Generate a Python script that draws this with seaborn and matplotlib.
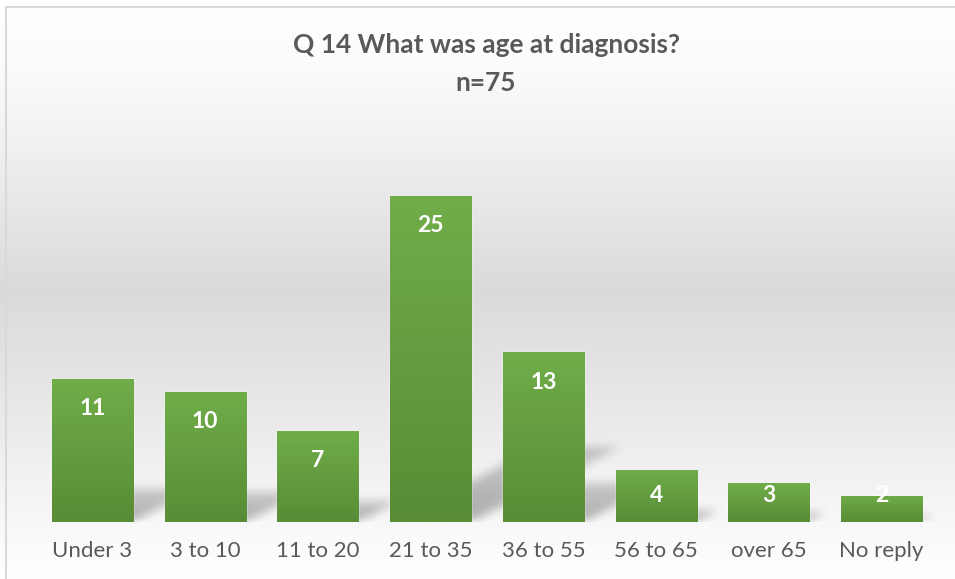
import numpy as np
import pandas as pd
import matplotlib
matplotlib.use("Agg")
import matplotlib.pyplot as plt
from matplotlib.lines import Line2D
import seaborn as sns

# data
categories = ['Under 3', '3 to 10', '11 to 20', '21 to 35', '36 to 55', '56 to 65', 'over 65', 'No reply']
counts = [11, 10, 7, 25, 13, 4, 3, 2]
title_line1 = 'Q 14 What was age at diagnosis?'
title_line2 = 'n=75'

df = pd.DataFrame({'age': categories, 'count': counts})

sns.set_theme(style='white')
plt.rcParams['font.family'] = ['Lato', 'DejaVu Sans']

W, H = 955, 579
fig = plt.figure(figsize=(W / 100, H / 100), dpi=100)

# background: vertical grey gradient
bg = fig.add_axes([0, 0, 1, 1], zorder=-10)
rows = np.arange(H)
shade = np.interp(rows, [0, 60, 150, 290, 420, 520, 579],
                  [255, 252, 240, 218, 234, 248, 255]) / 255.0
grad = np.repeat(shade[:, None], 4, axis=1)
bg.imshow(np.dstack([grad, grad, grad]), aspect='auto', extent=[0, 1, 0, 1])
bg.set_axis_off()

# chart frame (top and left edges visible)
fig.add_artist(Line2D([6 / W, 1], [1 - 7 / H, 1 - 7 / H], color='#d9d9d9', lw=1.5))
fig.add_artist(Line2D([6 / W, 6 / W], [0, 1 - 7 / H], color='#d9d9d9', lw=1.5))

ax = fig.add_axes([36 / W, (H - 522) / H, 902 / W, 391.2 / H])
ax.patch.set_alpha(0)

bar_w = 0.72
sns.barplot(data=df, x='age', y='count', color='#6aa646', width=bar_w,
            ax=ax, zorder=3, saturation=1)
ax.set_xlim(-0.5, len(categories) - 0.5)
ax.set_ylim(0, 30)

# soft perspective shadows behind the bars
nx, ny = 902, 391
xs = np.linspace(-0.5, len(categories) - 0.5, nx)
ys = np.linspace(30, 0, ny)
X, Y = np.meshgrid(xs, ys)
alpha = np.zeros_like(X)
s_ratio, k = 0.23, 0.23
for i, v in enumerate(counts):
    sh = s_ratio * v
    x0 = i - bar_w / 2 + k * Y
    x1 = i + bar_w / 2 + k * Y
    inside = (Y <= sh) & (X >= x0) & (X <= x1)
    a = 0.3 * (1 - 0.4 * Y / sh)
    alpha = np.maximum(alpha, np.where(inside, a, 0))


def box_blur(img, r):
    kern = np.ones(2 * r + 1) / (2 * r + 1)
    img = np.apply_along_axis(lambda m: np.convolve(m, kern, mode='same'), 0, img)
    img = np.apply_along_axis(lambda m: np.convolve(m, kern, mode='same'), 1, img)
    return img


for _ in range(3):
    alpha = box_blur(alpha, 4)
shadow = np.zeros((ny, nx, 4))
shadow[..., 3] = alpha
ax.imshow(shadow, aspect='auto', extent=[-0.5, len(categories) - 0.5, 0, 30],
          zorder=1, interpolation='bilinear')
ax.set_xlim(-0.5, len(categories) - 0.5)
ax.set_ylim(0, 30)

# gradient fill on each bar
top_c = np.array([0x70, 0xad, 0x48]) / 255
bot_c = np.array([0x58, 0x8c, 0x37]) / 255
t = np.linspace(0, 1, 64)[:, None]
bar_grad = (top_c * (1 - t) + bot_c * t)[:, None, :].repeat(2, axis=1)
for p in ax.patches:
    x, y0 = p.get_x(), p.get_y()
    w, h = p.get_width(), p.get_height()
    im = ax.imshow(bar_grad, aspect='auto', extent=[x, x + w, y0, y0 + h],
                   zorder=4, interpolation='bilinear')
    im.set_clip_path(p)
ax.set_xlim(-0.5, len(categories) - 0.5)
ax.set_ylim(0, 30)

# value labels inside the bar ends
for i, v in enumerate(counts):
    ax.text(i, max(v - 2.3, 2.07), str(v), ha='center', va='center',
            color='white', fontsize=16.5, fontweight='bold', zorder=5)

ax.set_xlabel('')
ax.set_ylabel('')
ax.set_yticks([])
ax.tick_params(axis='x', length=0, pad=14, labelsize=16, labelcolor='#595959')
for sp in ax.spines.values():
    sp.set_visible(False)

fig.text(486 / W, 1 - 45 / H, title_line1, ha='center', va='center',
         fontsize=19, fontweight='bold', color='#595959')
fig.text(486 / W, 1 - 83 / H, title_line2, ha='center', va='center',
         fontsize=19, fontweight='bold', color='#595959')

fig.savefig('out.png', dpi=100)
